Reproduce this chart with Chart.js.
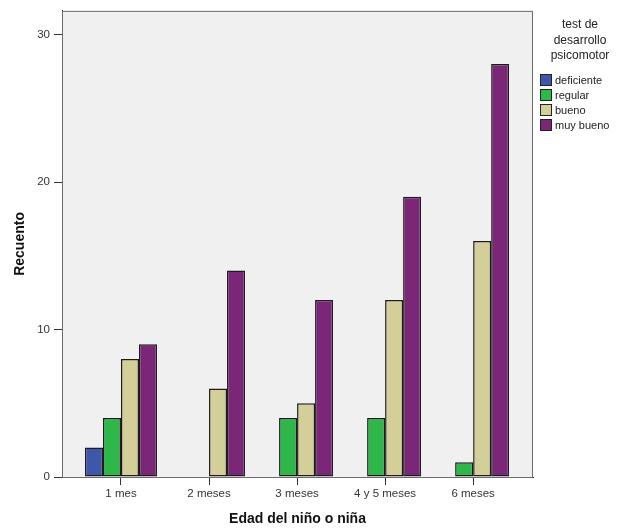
<!DOCTYPE html>
<html>
<head>
<meta charset="utf-8">
<script src="https://cdn.jsdelivr.net/npm/chart.js@4/dist/chart.umd.min.js"></script>
<style>
    html, body { margin: 0; padding: 0; background: #ffffff; }
    #wrap { width: 617px; height: 531px; }
</style>
</head>
<body>
<div id="wrap"><canvas id="barChart" width="617" height="531"></canvas></div>
<script>
// Data
const categories = ['1 mes', '2 meses', '3 meses', '4 y 5 meses', '6 meses'];
const deficiente = [2, 0, 0, 0, 0];
const regular = [4, 0, 4, 4, 1];
const bueno = [8, 6, 5, 12, 16];
const muyBueno = [9, 14, 12, 19, 28];
const yTicks = [0, 10, 20, 30];

const seriesNames = ['deficiente', 'regular', 'bueno', 'muy bueno'];
const seriesValues = [deficiente, regular, bueno, muyBueno];
const seriesColors = ['#3e57ab', '#2fb84a', '#d4cf98', '#7c2678'];

const FONT = '"Liberation Sans", Arial, sans-serif';

// Plot background + frame
const framePlugin = {
    id: 'frame',
    beforeDraw(chart) {
        const { ctx, chartArea: a } = chart;
        ctx.save();
        ctx.fillStyle = '#f0f0f0';
        ctx.fillRect(a.left, a.top, a.right - a.left, a.bottom - a.top);
        ctx.restore();
    },
    afterDraw(chart) {
        const { ctx, chartArea: a } = chart;
        ctx.save();
        ctx.strokeStyle = '#6b6b6b';
        ctx.lineWidth = 1;
        ctx.strokeRect(a.left + 0.5, a.top + 0.5, a.right - a.left - 1, a.bottom - a.top);
        ctx.restore();
    }
};

// Legend on the right, SPSS style
const legendPlugin = {
    id: 'sideLegend',
    afterDraw(chart) {
        const { ctx } = chart;
        ctx.save();
        ctx.fillStyle = '#222';
        ctx.font = '12px ' + FONT;
        ctx.textAlign = 'center';
        ctx.textBaseline = 'middle';
        ['test de', 'desarrollo', 'psicomotor'].forEach((t, i) => {
            ctx.fillText(t, 580, 25 + i * 15.5);
        });
        ctx.textAlign = 'left';
        ctx.font = '11px ' + FONT;
        chart.data.datasets.forEach((ds, i) => {
            const y = 80 + i * 15;
            ctx.fillStyle = ds.backgroundColor;
            ctx.fillRect(540, y - 6, 12, 12);
            ctx.strokeStyle = '#222';
            ctx.strokeRect(540.5, y - 5.5, 11, 11);
            ctx.fillStyle = '#222';
            ctx.fillText(ds.label, 555, y + 0.5);
        });
        ctx.restore();
    }
};

const ctx = document.getElementById('barChart').getContext('2d');
new Chart(ctx, {
    type: 'bar',
    data: {
        datasets: seriesNames.map((name, s) => ({
            label: name,
            data: seriesValues[s].map((v, i) => ({ x: i, y: v })),
            backgroundColor: seriesColors[s],
            borderColor: '#1c1c1c',
            borderWidth: 1.5,
            borderSkipped: false,
            categoryPercentage: 0.818,
            barPercentage: 1
        }))
    },
    options: {
        responsive: false,
        animation: false,
        layout: { padding: { top: 10, right: 84, left: 0, bottom: 0 } },
        plugins: {
            legend: { display: false },
            tooltip: { enabled: false }
        },
        scales: {
            x: {
                type: 'linear',
                offset: false,
                min: -0.67,
                max: 4.68,
                afterBuildTicks(scale) {
                    scale.ticks = categories.map((c, i) => ({ value: i }));
                },
                afterFit(scale) { scale.height = 54; },
                ticks: {
                    includeBounds: false,
                    autoSkip: false,
                    maxRotation: 0,
                    padding: 2,
                    color: '#333',
                    font: { family: FONT, size: 11.5 },
                    callback: (v) => categories[v]
                },
                grid: {
                    offset: false,
                    drawOnChartArea: false,
                    tickLength: 8,
                    color: '#333'
                },
                border: { display: true, color: '#333' },
                title: {
                    display: true,
                    text: 'Edad del niño o niña',
                    color: '#111',
                    font: { family: FONT, size: 14, weight: 'bold' },
                    padding: { top: 3, bottom: 3 }
                }
            },
            y: {
                min: 0,
                max: 31.6,
                afterBuildTicks(scale) {
                    scale.ticks = yTicks.map(v => ({ value: v }));
                },
                afterFit(scale) { scale.width = 62; },
                ticks: {
                    includeBounds: false,
                    padding: 4,
                    color: '#333',
                    font: { family: FONT, size: 11.5 }
                },
                grid: {
                    drawOnChartArea: false,
                    tickLength: 8,
                    color: '#333'
                },
                border: { display: true, color: '#333' },
                title: {
                    display: true,
                    text: 'Recuento',
                    color: '#111',
                    font: { family: FONT, size: 14, weight: 'bold' },
                    padding: { top: 12, bottom: 12 }
                }
            }
        }
    },
    plugins: [framePlugin, legendPlugin]
});
</script>
</body>
</html>
